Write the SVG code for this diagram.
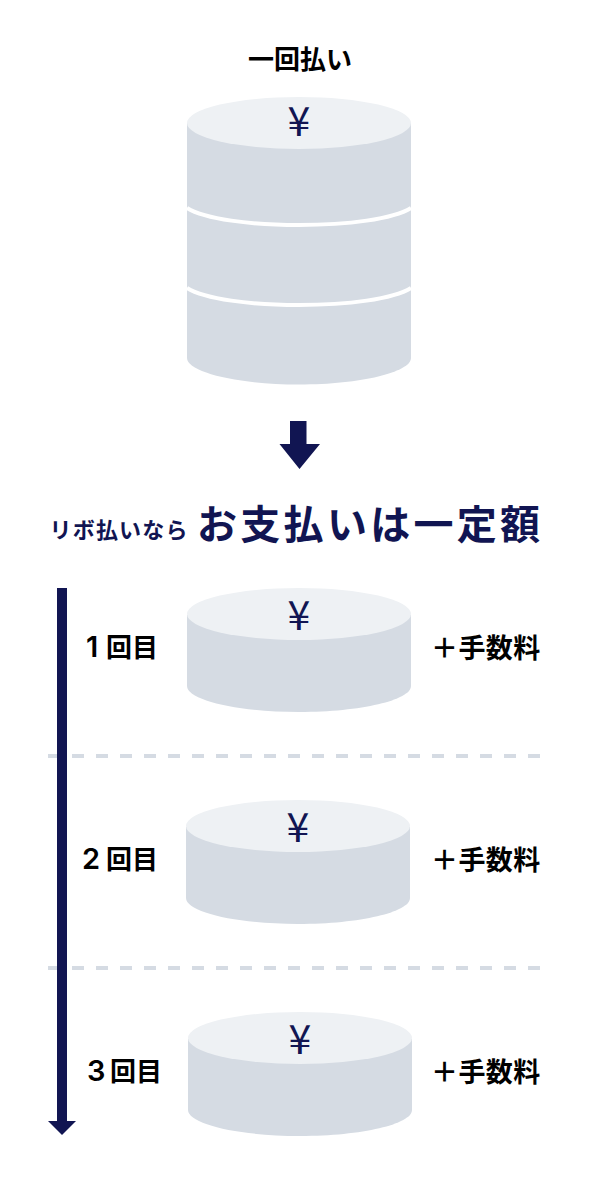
<svg xmlns="http://www.w3.org/2000/svg" width="590" height="1184" viewBox="0 0 590 1184">
<style>
text{font-family:"Noto Sans CJK JP","Noto Sans",sans-serif;font-weight:700}
.k{fill:#000;font-size:26px}
.l{fill:#000;font-size:26px}
.f{fill:#000;font-size:27px;letter-spacing:.4px}
.d{font-family:"Inter","Liberation Sans",sans-serif;font-size:29px;font-weight:600}
.n{fill:#111552}
.side{fill:#d5dbe3}
.top{fill:#eef1f4}
.yen{fill:#111552;font-size:41px;text-anchor:middle;font-weight:400}
.sep{stroke:#fff;stroke-width:4;fill:none}
.dash{stroke:#d5dbe3;stroke-width:4;stroke-dasharray:12 12;fill:none}
</style>
<rect width="590" height="1184" fill="#fff"/>
<g id="title"><text class="k" x="248" y="69">一回払い</text></g>
<g id="stack">
<path class="side" d="M187 123V358C187 372 237 384.500 299 384.500S411 372 411 358V123Z"/>
<ellipse class="top" cx="299" cy="123" rx="112" ry="26"/>
<path class="sep" d="M187 208C205 219 250 225 299 225S393 219 411 208"/>
<path class="sep" d="M187 288C205 299 250 305 299 305S393 299 411 288"/>
<text class="yen" x="299" y="136">¥</text>
</g>
<g id="connectors">
<path class="dash" d="M48 756H540"/>
<path class="dash" d="M48 968H540"/>
<path class="n" d="M290 421H306.500V444H320L299.500 469 279.500 444H290Z"/>
<rect class="n" x="57" y="588" width="10" height="534"/>
<path class="n" d="M48 1121H76L62 1135Z"/>
</g>
<g id="headline">
<text class="n" x="49.500" y="538" font-size="22" letter-spacing="1.200">リボ払いなら</text>
<text class="n" x="197" y="538.500" font-size="40" letter-spacing="3.300">お支払いは一定額</text>
</g>
<g id="step1">
<path class="side" d="M187 615V686C187 700 237 712 299 712S411 700 411 686V615Z"/>
<ellipse class="top" cx="299" cy="614" rx="112" ry="26"/>
<text class="yen" x="299" y="630">¥</text>
<text class="l" x="84" y="657"><tspan class="d" x="86">1</tspan><tspan x="106">回目</tspan></text>
<text class="f" x="431" y="658">＋手数料</text>
</g>
<g id="step2">
<path class="side" d="M186 827V898C186 912 236 924 298 924S410 912 410 898V827Z"/>
<ellipse class="top" cx="298" cy="826" rx="112" ry="26"/>
<text class="yen" x="298" y="842">¥</text>
<text class="l" x="82" y="869"><tspan class="d" x="82">2</tspan><tspan x="106">回目</tspan></text>
<text class="f" x="431" y="870">＋手数料</text>
</g>
<g id="step3">
<path class="side" d="M188 1039V1110C188 1124 238 1136 300 1136S412 1124 412 1110V1039Z"/>
<ellipse class="top" cx="300" cy="1038" rx="112" ry="26"/>
<text class="yen" x="300" y="1054">¥</text>
<text class="l" x="87" y="1081"><tspan class="d" x="87">3</tspan><tspan x="110">回目</tspan></text>
<text class="f" x="431" y="1082">＋手数料</text>
</g>
</svg>
